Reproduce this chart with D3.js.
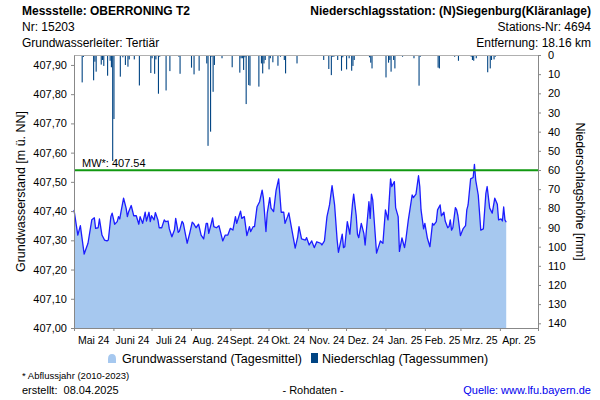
<!DOCTYPE html>
<html><head><meta charset="utf-8">
<script src="https://cdn.jsdelivr.net/npm/d3@7"></script>
<style>body{margin:0;background:#fff} svg text{font-family:"Liberation Sans",Arial,sans-serif;fill:#000}</style>
</head><body><svg id="c" width="600" height="400"></svg>
<script>
// ---- data ----
const startDate = "2024-05-01";
const endDate = "2025-05-01";
const monthLabels = ["Mai 24","Juni 24","Juli 24","Aug. 24","Sept. 24","Okt. 24","Nov. 24","Dez. 24","Jan. 25","Feb. 25","Mrz. 25","Apr. 25"];
// groundwater: day offset from startDate, level [m ü. NN]
const gwDay = [0,3,5,8,11,14,16,17,19,20,22,24,26,27,29,30,32,34,35,36,37,39,41,42,43,45,47,49,51,52,54,56,57,59,60,61,63,64,66,67,69,71,72,74,75,77,79,80,82,83,85,86,89,91,93,94,96,98,100,102,104,105,106,108,109,110,112,114,117,119,121,123,125,127,128,131,132,134,136,138,139,141,142,144,146,148,149,151,152,154,155,157,159,161,163,165,166,168,169,171,174,176,177,179,182,183,185,187,189,191,194,195,197,199,201,203,205,207,208,211,212,213,215,217,219,220,222,223,224,226,228,229,232,233,234,235,238,239,241,243,245,247,249,250,252,253,255,256,258,260,261,263,264,266,267,269,271,272,273,275,276,278,280,282,283,285,286,288,289,291,292,294,295,296,297,298,300,301,302,304,306,308,309,310,312,314,315,316,318,320,322,324,325,327,329,331,333,334,336,337,338,339,340];
const gwLevel = [407.404,407.318,407.350,407.253,407.290,407.370,407.377,407.341,407.343,407.373,407.318,407.301,407.298,407.301,407.381,407.393,407.355,407.364,407.381,407.373,407.398,407.444,407.410,407.381,407.398,407.419,407.384,407.384,407.355,407.381,407.358,407.396,407.366,407.396,407.364,407.384,407.370,407.395,407.370,407.343,407.343,407.370,407.364,407.366,407.339,407.312,407.335,407.375,407.327,407.332,407.365,407.358,407.290,407.324,407.362,407.358,407.343,407.355,407.318,407.305,407.358,407.358,407.324,407.358,407.377,407.347,407.343,407.350,407.298,407.318,407.318,407.341,407.335,407.381,407.358,407.400,407.375,407.381,407.316,407.347,407.330,407.347,407.347,407.415,407.432,407.472,407.444,407.330,407.393,407.446,407.410,407.398,407.472,407.510,407.396,407.396,407.358,407.381,407.394,407.345,407.273,407.312,407.347,407.305,407.301,407.309,407.284,407.298,407.275,407.295,407.290,407.284,407.298,407.381,407.421,407.487,407.421,407.301,407.259,407.321,407.275,407.278,407.364,407.321,407.421,407.458,407.384,407.321,407.309,407.358,407.324,407.284,407.432,407.375,407.458,407.438,407.256,407.270,407.298,407.290,407.404,407.370,407.510,407.484,407.501,407.412,407.381,407.262,407.308,407.275,407.301,407.370,407.398,407.455,407.446,407.458,407.521,407.484,407.404,407.339,407.358,407.307,407.278,407.358,407.352,407.364,407.404,407.421,407.384,407.396,407.366,407.343,407.347,407.370,407.335,407.343,407.412,407.404,407.384,407.316,407.339,407.350,407.404,407.421,407.510,407.515,407.560,407.506,407.455,407.335,407.339,407.461,407.484,407.410,407.393,407.444,407.423,407.370,407.373,407.366,407.414,407.370,407.362];
// precipitation: day offset from startDate, daily sum [mm]
const precipDay = [6,7,15,16,17,21,22,23,26,28,29,30,31,36,38,40,42,43,47,51,60,61,63,64,66,67,72,75,82,83,87,92,94,98,104,105,107,108,109,110,116,124,130,131,132,133,134,135,137,138,145,147,148,149,150,153,154,156,160,162,165,166,170,175,196,200,202,203,204,207,210,211,214,216,218,219,220,221,228,232,233,234,236,245,247,248,249,251,252,258,267,271,272,273,286,287,299,301,302,312,313,314,316,325,327,328,330,331];
const precipMm = [14.3,1,13.2,3.5,8.7,5,2.6,5.7,10.8,3,6.4,55.3,33.4,11.3,1.2,5.2,6.1,2.3,2.3,15.9,9.4,1.7,9.8,2.3,20.2,0.9,18.5,8.4,0.9,9.8,0.5,6.6,10.1,8.2,4.4,47.4,40,0.9,19.2,5.2,1.7,6.4,9.2,1.7,1.7,7.8,1.2,25.6,15.7,16,16.5,4.4,9.6,4.4,2.6,7.5,1.7,3.8,5.6,0.9,2.6,9.6,0.5,4.4,2.6,7.3,10.5,0.9,0.9,2.6,8.2,1.2,7.5,1.7,8.2,5.7,2.6,0.5,0.5,1.2,4,7,0.5,11.7,4,2.6,8.7,2.6,7,0.9,1.7,16,0.9,0.5,6.6,7,0.9,0.5,3,0.9,2.6,3,1.7,9,7,2.6,2.3,0.9];
const meanWater = 407.54;
const gwTicks = [407.0,407.1,407.2,407.3,407.4,407.5,407.6,407.7,407.8,407.9];
const precipTicks = [0,10,20,30,40,50,60,70,80,90,100,110,120,130,140];

// ---- chart ----
const svg = d3.select("#c");
const L = 74, R = 538, T = 55, B = 328;
const t0 = new Date(startDate + "T00:00:00Z"), t1 = new Date(endDate + "T00:00:00Z");
const x = d3.scaleUtc().domain([t0, t1]).range([L, R]);
const y = d3.scaleLinear().domain([407.0, 407.934]).range([B, T]);
const yP = d3.scaleLinear().domain([0, 142.45]).range([T, B]);
const day = d => d3.utcDay.offset(t0, d);

const gw = gwDay.map((d, i) => ({date: day(d), v: gwLevel[i]}));
const pr = precipDay.map((d, i) => ({date: day(d), v: precipMm[i]}));

// area
svg.append("path").datum(gw)
  .attr("fill", "#a6c8ef")
  .attr("d", d3.area().x(d => x(d.date)).y0(B).y1(d => y(d.v)));
// precipitation bars
svg.append("g").selectAll("rect").data(pr).join("rect")
  .attr("x", d => x(d.date))
  .attr("y", T)
  .attr("width", 1.1)
  .attr("height", d => yP(d.v) - T)
  .attr("fill", "#004483");
// top border
svg.append("line").attr("x1", L).attr("x2", R).attr("y1", T + 0.5).attr("y2", T + 0.5)
  .attr("stroke", "#b0b0b0").attr("stroke-width", 1);
// line
svg.append("path").datum(gw)
  .attr("fill", "none").attr("stroke", "#1c1cff").attr("stroke-width", 1.3)
  .attr("stroke-linejoin", "round")
  .attr("d", d3.line().x(d => x(d.date)).y(d => y(d.v)));
// mean line
svg.append("line").attr("x1", L).attr("x2", R).attr("y1", y(meanWater)).attr("y2", y(meanWater))
  .attr("stroke", "#119911").attr("stroke-width", 2);
svg.append("text").attr("x", 82).attr("y", y(meanWater) - 3.5).attr("font-size", 11)
  .text("MW*: " + d3.format(".2f")(meanWater));

// axes
const styleAxis = g => {
  g.selectAll(".domain").attr("stroke", "#888");
  g.selectAll(".tick line").attr("stroke", "#888");
  g.selectAll("text").attr("font-family", "Liberation Sans, Arial, sans-serif").attr("fill", "#000");
};
svg.append("g").attr("transform", `translate(${L},0)`)
  .call(d3.axisLeft(y).tickValues(gwTicks).tickSizeInner(3).tickSizeOuter(0).tickPadding(4)
    .tickFormat(d => d3.format(".2f")(d).replace(".", ",")))
  .call(g => g.selectAll("text").attr("font-size", 11))
  .call(styleAxis);
svg.append("g").attr("transform", `translate(${R},0)`)
  .call(d3.axisRight(yP).tickValues(precipTicks).tickSizeInner(3).tickSizeOuter(0).tickPadding(7))
  .call(g => g.selectAll("text").attr("font-size", 11))
  .call(styleAxis);
svg.append("g").attr("transform", `translate(0,${B})`)
  .call(d3.axisBottom(x).ticks(d3.utcMonth.every(1)).tickSizeInner(3).tickSizeOuter(0).tickFormat(""))
  .call(styleAxis);
// month labels centered in each month
const months = d3.utcMonth.range(t0, t1);
svg.append("g").selectAll("text").data(months).join("text")
  .attr("x", d => (x(d) + x(d3.utcMonth.offset(d, 1))) / 2)
  .attr("y", 344)
  .attr("text-anchor", "middle")
  .attr("font-size", 10.5)
  .text((d, i) => monthLabels[i]);

// axis titles
svg.append("text").attr("transform", `translate(25,${(T + B) / 2}) rotate(-90)`)
  .attr("text-anchor", "middle").attr("font-size", 12.5).text("Grundwasserstand [m ü. NN]");
svg.append("text").attr("transform", `translate(576,${(T + B) / 2}) rotate(90)`)
  .attr("text-anchor", "middle").attr("font-size", 12.5).text("Niederschlagshöhe [mm]");

// header
const hdr = [
  {x: 22, y: 15, a: "start", w: "bold", t: "Messstelle: OBERRONING T2"},
  {x: 22, y: 31, a: "start", w: "normal", t: "Nr: 15203"},
  {x: 22, y: 47, a: "start", w: "normal", t: "Grundwasserleiter: Tertiär"},
  {x: 591, y: 15, a: "end", w: "bold", t: "Niederschlagsstation: (N)Siegenburg(Kläranlage)"},
  {x: 591, y: 31, a: "end", w: "normal", t: "Stations-Nr: 4694"},
  {x: 591, y: 47, a: "end", w: "normal", t: "Entfernung: 18.16 km"}
];
svg.append("g").selectAll("text").data(hdr).join("text")
  .attr("x", d => d.x).attr("y", d => d.y).attr("text-anchor", d => d.a)
  .attr("font-size", 12).attr("font-weight", d => d.w).text(d => d.t);

// legend
const lg = svg.append("g");
lg.append("path").attr("d", "M108,363 L108,359 Q108,354 112,354 Q116,354 116,359 L116,363 Z").attr("fill", "#a6c8ef");
lg.append("text").attr("x", 122).attr("y", 363).attr("font-size", 12.5).text("Grundwasserstand (Tagesmittel)");
lg.append("rect").attr("x", 311).attr("y", 353).attr("width", 7).attr("height", 10).attr("fill", "#004483");
lg.append("text").attr("x", 322).attr("y", 363).attr("font-size", 12.5).text("Niederschlag (Tagessummen)");

// footer
svg.append("text").attr("x", 22).attr("y", 379).attr("font-size", 9.5).text("* Abflussjahr (2010-2023)");
svg.append("text").attr("x", 22).attr("y", 394).attr("font-size", 11).attr("xml:space", "preserve").text("erstellt:  08.04.2025");
svg.append("text").attr("x", 313).attr("y", 394).attr("font-size", 11).attr("text-anchor", "middle").text("- Rohdaten -");
svg.append("text").attr("x", 591).attr("y", 394).attr("font-size", 11).attr("text-anchor", "end")
  .style("fill", "#0000ee").text("Quelle: www.lfu.bayern.de");
</script></body></html>
